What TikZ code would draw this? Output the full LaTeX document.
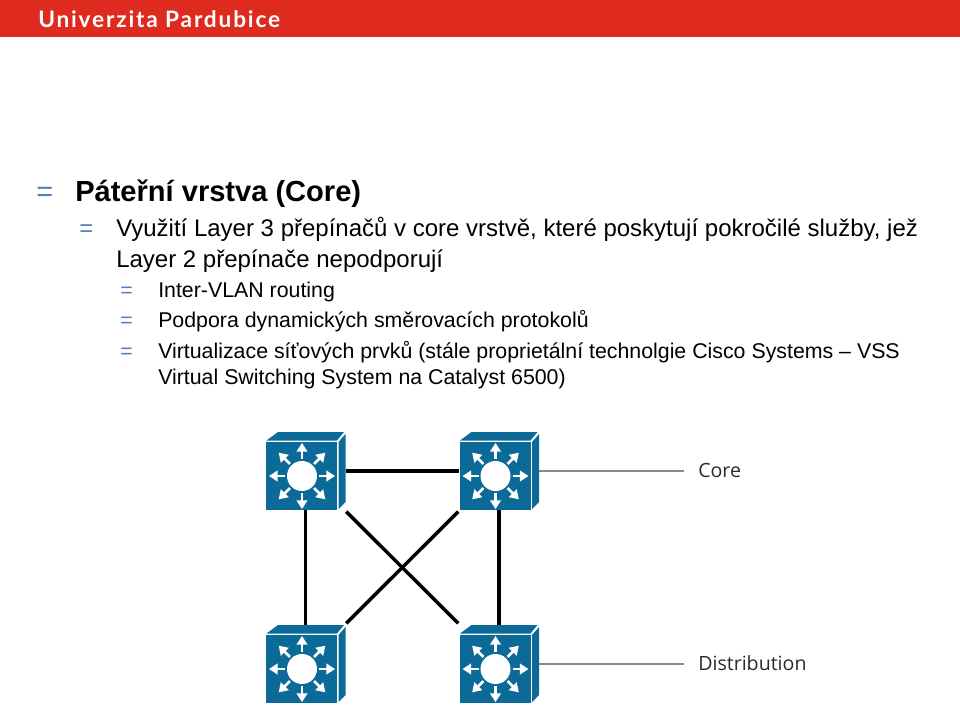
\documentclass[tikz,border=0pt]{standalone}
\usepackage{fontspec}
\setmainfont{Liberation Sans}
\newfontfamily\logofont[LetterSpace=8]{Lato}
\newfontfamily\labelfont{Open Sans}
\usetikzlibrary{arrows.meta,positioning,backgrounds,calc}
\definecolor{UpaRed}{HTML}{DE2A1F}
\definecolor{BulletBlue}{HTML}{4F81BD}
\definecolor{SwitchBlue}{HTML}{0B6A97}
\definecolor{LeaderGray}{HTML}{8A8A8A}
\definecolor{LabelInk}{HTML}{2A2A2A}
\tikzset{
  switchbox/.style={rectangle,minimum width=60pt,minimum height=58.5pt,inner sep=0pt},
  link/.style={line width=2.6pt,color=black},
  crosslink/.style={link,shorten <=1.5pt,shorten >=1.5pt},
  leader/.style={line width=0.9pt,color=LeaderGray,shorten >=10.5pt},
  spoke/.style={-{Triangle[length=6.5pt,width=8pt]},line width=1.9pt,color=white},
  tierlabel/.style={anchor=west,inner sep=0pt,font=\labelfont\fontsize{14.7pt}{14.7pt}\selectfont,text=LabelInk,text height=10pt,text depth=0pt},
  bullet/.style={anchor=base west,inner sep=0pt,text=BulletBlue},
  lineA/.style={anchor=base west,inner sep=0pt,font=\fontsize{21.8pt}{21.8pt}\selectfont\bfseries},
  lineB/.style={anchor=base west,inner sep=0pt,font=\fontsize{18pt}{18pt}\selectfont},
  lineC/.style={anchor=base west,inner sep=0pt,font=\fontsize{16pt}{16pt}\selectfont},
}
\newcommand{\switchicon}[1]{
  \begin{scope}[shift={(#1.center)}]
    \fill[SwitchBlue] (-39.5,-29) rectangle (31.5,39);
    \fill[SwitchBlue] (-39,-30.5) -- (-27.5,-39) -- (38.5,-39) -- (31.5,-30.5) -- cycle;
    \fill[SwitchBlue] (33,-29) -- (40,-37) -- (40,31) -- (33,38) -- cycle;
    \fill[white] (-3.5,5) circle (15);
    \foreach \a in {0,45,...,315} {
      \draw[spoke] ($(-3.5,5)+(\a:17)$) -- ($(-3.5,5)+(\a:33)$);
    }
  \end{scope}
}
\begin{document}
\begin{tikzpicture}[x=0.75pt,y=-0.75pt]
  \useasboundingbox (0,0) rectangle (960,707);
  \fill[UpaRed] (0,0) rectangle (960,37);
  \node[anchor=base west,inner sep=0pt,text=white,font=\logofont\fontsize{17pt}{17pt}\selectfont\bfseries] (logo) at (38,27.5) {Univerzita Pardubice};

  \node[bullet,font=\fontsize{21.8pt}{21.8pt}\selectfont] (b0) at (36,201) {=};
  \node[lineA] (title) at (75,201) {Páteřní vrstva (Core)};
  \node[bullet,font=\fontsize{18pt}{18pt}\selectfont] (b1) at (79,236) {=};
  \node[lineB] (l1) at (116,236) {Využití Layer 3 přepínačů v core vrstvě, které poskytují pokročilé služby, jež};
  \node[lineB] (l2) at (116,267) {Layer 2 přepínače nepodporují};
  \node[bullet,font=\fontsize{16pt}{16pt}\selectfont] (b2) at (120,297) {=};
  \node[lineC] (l3) at (158,297) {Inter-VLAN routing};
  \node[bullet,font=\fontsize{16pt}{16pt}\selectfont] (b3) at (120,327) {=};
  \node[lineC] (l4) at (158,327) {Podpora dynamických směrovacích protokolů};
  \node[bullet,font=\fontsize{16pt}{16pt}\selectfont] (b4) at (120,358) {=};
  \node[lineC] (l5) at (158,358) {Virtualizace síťových prvků (stále proprietální technolgie Cisco Systems – VSS};
  \node[lineC] (l6) at (158,384) {Virtual Switching System na Catalyst 6500)};

  \node[switchbox] (core1) at (305.5,471) {};
  \node[switchbox] (core2) at (499,471) {};
  \node[switchbox] (dist1) at (305.5,664) {};
  \node[switchbox] (dist2) at (499,664) {};
  \node[tierlabel] (lblcore) at (698,471) {Core};
  \node[tierlabel] (lbldist) at (698,664) {Distribution};

  \begin{scope}[on background layer]
    \draw[link] (core1) -- (core2);
    \draw[link] (core1) -- (dist1);
    \draw[link] (core2) -- (dist2);
    \draw[crosslink] (core1) -- (dist2);
    \draw[crosslink] (core2) -- (dist1);
  \end{scope}
  \draw[leader] (core2.east) -- (lblcore.west);
  \draw[leader] (dist2.east) -- (lbldist.west);

  \foreach \sw in {core1,core2,dist1,dist2} {
    \switchicon{\sw}
  }
\end{tikzpicture}
\end{document}
